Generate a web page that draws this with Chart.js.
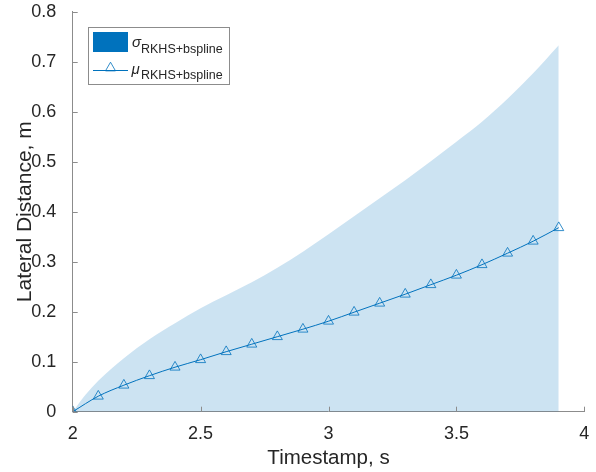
<!DOCTYPE html>
<html lang="en">
<head>
  <meta charset="UTF-8">
  <title>Lateral Distance RKHS+bspline</title>
  <script src="https://cdn.jsdelivr.net/npm/chart.js"></script>
  <style>
    html, body { margin: 0; padding: 0; background: #fff; }
    #wrap { width: 596px; height: 472px; position: relative; }
  </style>
</head>
<body>
  <div id="wrap"><canvas id="chart"></canvas></div>

  <script>
    // mean trajectory (markers every 0.1 s)
    const muTime = [2.0, 2.1, 2.2, 2.3, 2.4, 2.5, 2.6, 2.7, 2.8, 2.9, 3.0, 3.1, 3.2, 3.3, 3.4, 3.5, 3.6, 3.7, 3.8, 3.9];
    const muValues = [0, 0.031, 0.053, 0.072, 0.089, 0.104, 0.12, 0.135, 0.15, 0.165, 0.181, 0.199, 0.217, 0.235, 0.254, 0.273, 0.294, 0.317, 0.341, 0.368];

    // upper edge of the sigma band (band filled down to zero)
    const sigmaTime = [2.0, 2.05, 2.1, 2.2, 2.3, 2.4, 2.5, 2.6, 2.7, 2.8, 2.9, 3.0, 3.1, 3.2, 3.3, 3.4, 3.5, 3.6, 3.7, 3.8, 3.9];
    const sigmaUpper = [0, 0.034, 0.062, 0.107, 0.145, 0.177, 0.207, 0.233, 0.259, 0.288, 0.32, 0.355, 0.391, 0.427, 0.463, 0.501, 0.54, 0.58, 0.626, 0.677, 0.733];

    const xTicks = [2, 2.5, 3, 3.5, 4];
    const yTicks = [0, 0.1, 0.2, 0.3, 0.4, 0.5, 0.6, 0.7, 0.8];

    const blue = '#0072BD';
    const axisGray = '#8c8c8c';
    const textColor = '#262626';
    const fontFamily = '"Liberation Sans", Arial, Helvetica, sans-serif';

    // MATLAB style ticks pointing into the axes
    const innerTicks = {
      id: 'innerTicks',
      afterDraw(chart) {
        const { ctx, scales: { x, y } } = chart;
        ctx.save();
        ctx.strokeStyle = axisGray;
        ctx.lineWidth = 1;
        ctx.beginPath();
        xTicks.forEach(v => {
          const px = Math.round(x.getPixelForValue(v)) + 0.5;
          ctx.moveTo(px, y.bottom);
          ctx.lineTo(px, y.bottom - 5);
        });
        yTicks.forEach(v => {
          const py = Math.round(y.getPixelForValue(v)) + 0.5;
          ctx.moveTo(x.left, py);
          ctx.lineTo(x.left + 5, py);
        });
        ctx.stroke();
        ctx.restore();
      }
    };

    // legend box with subscripted labels
    const boxLegend = {
      id: 'boxLegend',
      afterDraw(chart) {
        const ctx = chart.ctx;
        const bx = 88.5, by = 27.5, bw = 141, bh = 57;
        ctx.save();
        ctx.fillStyle = '#fff';
        ctx.fillRect(bx, by, bw, bh);
        ctx.strokeStyle = axisGray;
        ctx.lineWidth = 1;
        ctx.strokeRect(bx, by, bw, bh);

        // sigma entry
        ctx.fillStyle = blue;
        ctx.fillRect(93, 32, 35, 20);
        // mu entry
        ctx.strokeStyle = blue;
        ctx.beginPath();
        ctx.moveTo(93, 70.5);
        ctx.lineTo(128, 70.5);
        ctx.stroke();
        const cx = 110.5, cy = 68, r = 5.8;
        ctx.strokeStyle = 'rgba(0,114,189,0.8)';
        ctx.beginPath();
        for (let k = 0; k < 3; k++) {
          const a = k * 2 * Math.PI / 3;
          const px = cx + Math.sin(a) * r, py = cy - Math.cos(a) * r;
          if (k === 0) ctx.moveTo(px, py); else ctx.lineTo(px, py);
        }
        ctx.closePath();
        ctx.stroke();

        ctx.fillStyle = textColor;
        ctx.textBaseline = 'alphabetic';
        ctx.textAlign = 'left';
        ctx.font = 'italic 15px ' + fontFamily;
        ctx.fillText('σ', 132, 46.5);
        ctx.fillText('μ', 131.5, 74);
        ctx.font = '12.5px ' + fontFamily;
        ctx.fillText('RKHS+bspline', 141, 53);
        ctx.fillText('RKHS+bspline', 141, 79);
        ctx.restore();
      }
    };

    const fmt = v => String(Math.round(v * 10) / 10);

    const ctx = document.getElementById('chart').getContext('2d');
    new Chart(ctx, {
      type: 'line',
      data: {
        datasets: [
          {
            label: 'sigma',
            data: sigmaTime.map((t, i) => ({ x: t, y: sigmaUpper[i] })),
            fill: 'origin',
            backgroundColor: 'rgba(0,114,189,0.2)',
            borderWidth: 0,
            borderColor: 'rgba(0,0,0,0)',
            pointRadius: 0,
            cubicInterpolationMode: 'monotone'
          },
          {
            label: 'mu',
            data: muTime.map((t, i) => ({ x: t, y: muValues[i] })),
            fill: false,
            borderColor: blue,
            borderWidth: 1,
            pointStyle: 'triangle',
            pointRadius: 5.8,
            pointBorderWidth: 1,
            pointBorderColor: 'rgba(0,114,189,0.8)',
            pointBackgroundColor: 'rgba(0,0,0,0)',
            cubicInterpolationMode: 'monotone'
          }
        ]
      },
      options: {
        responsive: true,
        maintainAspectRatio: false,
        animation: false,
        layout: { padding: { left: 0, right: 11.7, top: 11.7, bottom: 0 } },
        plugins: {
          legend: { display: false },
          tooltip: { enabled: false }
        },
        scales: {
          x: {
            type: 'linear',
            min: 2,
            max: 4,
            z: 1,
            afterFit: s => { s.height = 60.3; s.paddingLeft = 0; s.paddingRight = 0; },
            afterBuildTicks: s => { s.ticks = xTicks.map(v => ({ value: v })); },
            grid: { display: false },
            border: { display: true, color: axisGray, width: 1 },
            ticks: {
              padding: 4,
              maxRotation: 0,
              color: textColor,
              font: { family: fontFamily, size: 18 },
              callback: fmt
            },
            title: {
              display: true,
              text: 'Timestamp, s',
              color: textColor,
              font: { family: fontFamily, size: 20.5 },
              padding: { top: 0, bottom: 1 }
            }
          },
          y: {
            type: 'linear',
            min: 0,
            max: 0.8,
            z: 1,
            afterFit: s => { s.width = 72.7; s.paddingTop = 0; s.paddingBottom = 0; },
            afterBuildTicks: s => { s.ticks = yTicks.map(v => ({ value: v })); },
            grid: { display: false },
            border: { display: true, color: axisGray, width: 1 },
            ticks: {
              padding: 8.5,
              color: textColor,
              font: { family: fontFamily, size: 18 },
              callback: fmt
            },
            title: {
              display: true,
              text: 'Lateral Distance, m',
              color: textColor,
              font: { family: fontFamily, size: 21 },
              padding: { top: 13, bottom: 0 }
            }
          }
        }
      },
      plugins: [innerTicks, boxLegend]
    });
  </script>
</body>
</html>
